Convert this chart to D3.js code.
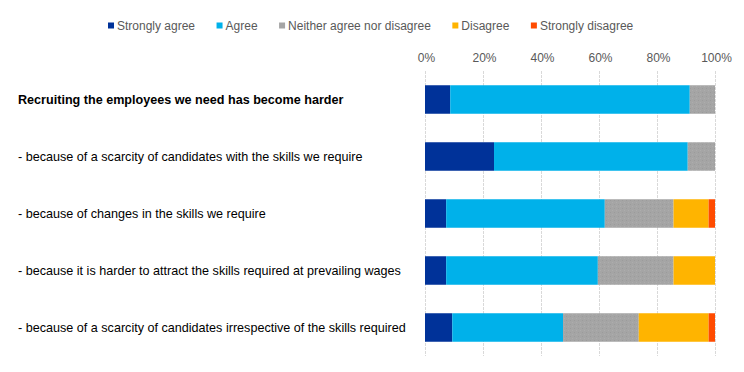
<!DOCTYPE html>
<html>
<head>
<meta charset="utf-8">
<script src="https://cdn.jsdelivr.net/npm/d3@7"></script>
<style>
  body { margin: 0; background: #fff; }
  svg text { font-family: Arial, "Liberation Sans", sans-serif; }
</style>
</head>
<body>
<svg id="chart" width="744" height="372"></svg>
<script>
// data (percent of respondents)
var categories = [
    "Recruiting the employees we need has become harder",
    "- because of a scarcity of candidates with the skills we require",
    "- because of changes in the skills we require",
    "- because it is harder to attract the skills required at prevailing wages",
    "- because of a scarcity of candidates irrespective of the skills required"
];
var seriesNames = ["Strongly agree", "Agree", "Neither agree nor disagree", "Disagree", "Strongly disagree"];
var stronglyAgree    = [8.7, 23.8, 7.3, 7.3, 9.4];
var agree            = [82.6, 66.8, 54.7, 52.3, 38.2];
var neither          = [8.7, 9.4, 23.7, 26.1, 26.1];
var disagree         = [0, 0, 12.1, 14.3, 24.1];
var stronglyDisagree = [0, 0, 2.2, 0, 2.2];
var tickValues = [0, 20, 40, 60, 80, 100];
var colors = ["#003299", "#00B1EA", "#A5A5A5", "#FFB400", "#FF4B00"];

var svg = d3.select("#chart"),
    margin = {top: 71, right: 29, bottom: 16, left: 425},
    width = 744 - margin.left - margin.right,
    height = 372 - margin.top - margin.bottom;

// dotted texture for the neutral series
var defs = svg.append("defs");
var pat = defs.append("pattern")
    .attr("id", "dots")
    .attr("width", 4).attr("height", 4)
    .attr("patternUnits", "userSpaceOnUse");
pat.append("rect").attr("width", 4).attr("height", 4).attr("fill", "#A5A5A5");
pat.append("rect").attr("x", 1).attr("y", 1).attr("width", 1).attr("height", 1).attr("fill", "#9B9B9B");
pat.append("rect").attr("x", 3).attr("y", 3).attr("width", 1).attr("height", 1).attr("fill", "#ADADAD");

var fills = [colors[0], colors[1], "url(#dots)", colors[3], colors[4]];

var table = categories.map(function (c, i) {
    return {
        cat: c,
        s0: stronglyAgree[i], s1: agree[i], s2: neither[i], s3: disagree[i], s4: stronglyDisagree[i]
    };
});
var stack = d3.stack().keys(["s0", "s1", "s2", "s3", "s4"])(table);

var x = d3.scaleLinear().domain([0, 100]).range([0, width]);
var y = d3.scaleBand().domain(categories).range([0, height]).paddingInner(0.5).paddingOuter(0.25);

var g = svg.append("g").attr("transform", "translate(" + margin.left + "," + margin.top + ")");

// gridlines
g.append("g")
    .selectAll("line")
    .data(tickValues)
    .join("line")
    .attr("x1", function (d) { return Math.round(x(d)) + 0.5; })
    .attr("x2", function (d) { return Math.round(x(d)) + 0.5; })
    .attr("y1", 0)
    .attr("y2", height)
    .attr("stroke", "#D9D9D9")
    .attr("stroke-width", 1)
    .attr("stroke-dasharray", "3,1");

// top axis labels
var axis = g.append("g")
    .call(d3.axisTop(x).tickValues(tickValues).tickSize(0).tickPadding(0).tickFormat(function (d) { return d + "%"; }))
    .attr("transform", "translate(1,-9)");
axis.select(".domain").remove();
axis.selectAll("text")
    .attr("font-family", "Arial, 'Liberation Sans', sans-serif")
    .attr("font-size", 12)
    .attr("fill", "#595959");

// bars
g.append("g")
    .selectAll("g")
    .data(stack)
    .join("g")
    .attr("fill", function (d, i) { return fills[i]; })
    .selectAll("rect")
    .data(function (d) { return d; })
    .join("rect")
    .attr("x", function (d) { return x(d[0]); })
    .attr("y", function (d) { return y(d.data.cat); })
    .attr("width", function (d) { return x(d[1]) - x(d[0]); })
    .attr("height", y.bandwidth());

// category labels
svg.append("g")
    .selectAll("text")
    .data(categories)
    .join("text")
    .attr("x", 18)
    .attr("y", function (d) { return margin.top + y(d) + y.bandwidth() / 2; })
    .attr("dy", "0.35em")
    .attr("font-size", 12.6)
    .attr("font-weight", function (d, i) { return i == 0 ? "bold" : "normal"; })
    .attr("fill", "#000")
    .text(function (d) { return d; });

// legend
var legend = svg.append("g").attr("transform", "translate(108,25.5)");
var lx = 0;
seriesNames.forEach(function (name, i) {
    var item = legend.append("g").attr("transform", "translate(" + lx + ",0)");
    item.append("rect")
        .attr("x", 0).attr("y", -3)
        .attr("width", 6).attr("height", 6)
        .attr("fill", colors[i]);
    var t = item.append("text")
        .attr("x", 9)
        .attr("dy", "0.35em")
        .attr("font-size", 12)
        .attr("fill", "#595959")
        .text(name);
    lx += 9 + t.node().getComputedTextLength() + 21.5;
});
</script>
</body>
</html>
